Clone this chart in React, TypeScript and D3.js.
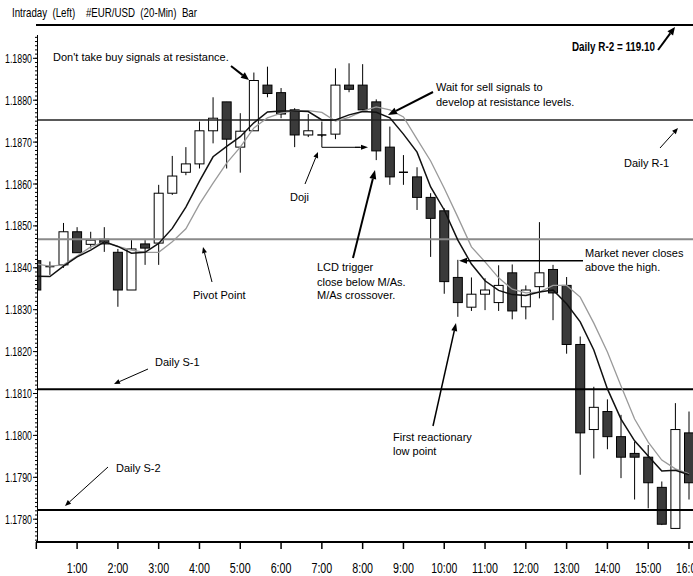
import React from "react";
import * as d3 from "d3";

// ---- data (20-minute EUR/USD bars) ----
const barTimes = [
  "0:00", "0:20", "0:40", "1:00", "1:20", "1:40", "2:00", "2:20", "2:40", "3:00",
  "3:20", "3:40", "4:00", "4:20", "4:40", "5:00", "5:20", "5:40", "6:00", "6:20",
  "6:40", "7:00", "7:20", "7:40", "8:00", "8:20", "8:40", "9:00", "9:20", "9:40",
  "10:00", "10:20", "10:40", "11:00", "11:20", "11:40", "12:00", "12:20", "12:40", "13:00",
  "13:20", "13:40", "14:00", "14:20", "14:40", "15:00", "15:20", "15:40", "16:00",
];
const opens = [
  1.18417, 1.18403, 1.18407, 1.18486, 1.18456, 1.18468, 1.18437, 1.18347, 1.18457, 1.18459,
  1.18578, 1.18628, 1.18648, 1.18727, 1.18796, 1.18688, 1.18727, 1.18836, 1.18818, 1.18777,
  1.18717, 1.18717, 1.18719, 1.18836, 1.18836, 1.18796, 1.18688, 1.18628, 1.18617, 1.18568,
  1.18536, 1.18377, 1.18306, 1.18337, 1.18317, 1.18388, 1.18307, 1.18355, 1.18396, 1.18358,
  1.18217, 1.18014, 1.18057, 1.17997, 1.17957, 1.17948, 1.17876, 1.17778, 1.18006,
];
const highs = [
  1.18423, 1.18415, 1.18507, 1.18497, 1.18486, 1.18497, 1.18445, 1.18466, 1.18466, 1.18598,
  1.18667, 1.18688, 1.18749, 1.18807, 1.18796, 1.18769, 1.18866, 1.1888, 1.18829, 1.18781,
  1.18767, 1.18749, 1.18876, 1.18888, 1.18886, 1.18802, 1.18737, 1.18669, 1.1864, 1.18578,
  1.18542, 1.18419, 1.18377, 1.18375, 1.18406, 1.18408, 1.18358, 1.18509, 1.18407, 1.18378,
  1.18236, 1.18116, 1.18086, 1.18049, 1.17985, 1.17977, 1.1789, 1.18077, 1.18057,
];
const lows = [
  1.18347, 1.18383, 1.184, 1.18436, 1.18446, 1.18438, 1.18307, 1.18347, 1.18407, 1.18407,
  1.18574, 1.18621, 1.18637, 1.18697, 1.18637, 1.18627, 1.18727, 1.18807, 1.18757, 1.18688,
  1.18712, 1.18712, 1.18707, 1.18819, 1.18777, 1.18657, 1.18598, 1.18598, 1.18538, 1.18426,
  1.18338, 1.18283, 1.18297, 1.18299, 1.18297, 1.18277, 1.18277, 1.18327, 1.18275, 1.18195,
  1.17906, 1.17945, 1.17967, 1.17898, 1.17847, 1.17826, 1.17786, 1.17778, 1.17847,
];
const closes = [
  1.18347, 1.18403, 1.18486, 1.18436, 1.18466, 1.18457, 1.18347, 1.18445, 1.18447, 1.18578,
  1.18619, 1.18648, 1.18727, 1.18757, 1.18707, 1.18726, 1.18847, 1.18816, 1.18767, 1.18717,
  1.18727, 1.18717, 1.18836, 1.18826, 1.18777, 1.18679, 1.18617, 1.18628, 1.18568, 1.18518,
  1.18367, 1.18317, 1.18337, 1.18347, 1.18358, 1.18297, 1.18347, 1.18388, 1.1834, 1.18217,
  1.18006, 1.18067, 1.17997, 1.17948, 1.17948, 1.17887, 1.17788, 1.18014, 1.17887,
];
const maFast = [
  1.1838, 1.18379, 1.18404, 1.18426, 1.18442, 1.18462, 1.18451, 1.18435, 1.18437, 1.18458,
  1.18494, 1.18545, 1.18607, 1.18665, 1.1869, 1.18713, 1.18746, 1.18772, 1.18774, 1.18774,
  1.18773, 1.18753, 1.18753, 1.18765, 1.18773, 1.18771, 1.18758, 1.18719, 1.18676, 1.18593,
  1.18538, 1.18466, 1.18409, 1.18369, 1.18346, 1.18336, 1.18334, 1.18342, 1.18347, 1.18314,
  1.18271, 1.18204, 1.18111, 1.18039, 1.17987, 1.17951, 1.17915, 1.17917, 1.17906,
];
const maSlow = [
  1.18409, 1.18404, 1.18407, 1.18428, 1.1845, 1.18462, 1.18451, 1.18442, 1.18437, 1.18437,
  1.18462, 1.18493, 1.18552, 1.18602, 1.1865, 1.18688, 1.18734, 1.18758, 1.18769, 1.18775,
  1.18775, 1.18771, 1.1875, 1.18759, 1.18774, 1.18784, 1.18777, 1.1876, 1.18707, 1.18655,
  1.1859, 1.18521, 1.1845, 1.18414, 1.18376, 1.18349, 1.1834, 1.18342, 1.18358, 1.18358,
  1.1833, 1.18268, 1.18199, 1.18118, 1.18039, 1.17984, 1.17941, 1.1792, 1.17908,
];
const hourLabels = [
  "1:00", "2:00", "3:00", "4:00", "5:00", "6:00", "7:00", "8:00",
  "9:00", "10:00", "11:00", "12:00", "13:00", "14:00", "15:00", "16:00",
];
const yTickValues = [
  1.178, 1.179, 1.18, 1.181, 1.182, 1.183, 1.184, 1.185, 1.186, 1.187, 1.188, 1.189,
];
const levelNames = ["R-1", "Pivot", "S-1", "S-2"];
const levelValues = [1.18753, 1.18468, 1.1811, 1.17822];

const toHours = (s: string) => {
  const [h, m] = s.split(":").map(Number);
  return h + m / 60;
};

const FONT = "'Liberation Sans', Arial, Helvetica, sans-serif";

function Arrow({ x1, y1, x2, y2, w = 1, head = 7, hw = 3 }: any) {
  const a = Math.atan2(y2 - y1, x2 - x1);
  const bx = x2 - head * Math.cos(a);
  const by = y2 - head * Math.sin(a);
  const px = -Math.sin(a) * hw;
  const py = Math.cos(a) * hw;
  return (
    <g>
      <line x1={x1} y1={y1} x2={bx} y2={by} stroke="#000" strokeWidth={w} />
      <polygon
        points={`${x2},${y2} ${bx + px},${by + py} ${bx - px},${by - py}`}
        fill="#000"
      />
    </g>
  );
}

export default function App() {
  const W = 693;
  const H = 576;
  const plotLeft = 37;
  const plotRight = 693;
  const plotTop = 35;
  const plotBottom = 542;

  const x = d3.scaleLinear().domain([0, 16]).range([36.3, 689]);
  const y = d3.scaleLinear().domain([1.178, 1.189]).range([519.2, 58.3]);

  const bars = barTimes.map((t, i) => ({
    t: toHours(t),
    o: opens[i],
    h: highs[i],
    l: lows[i],
    c: closes[i],
  }));

  const line = d3
    .line<number>()
    .x((_, i) => x(toHours(barTimes[i])))
    .y((d) => y(d));

  const bw = 9;
  const minorTicks = d3.range(1.1775, 1.1905, 0.0001);

  const lvl = (name: string) => levelValues[levelNames.indexOf(name)];

  return (
    <svg
      width={W}
      height={H}
      style={{ position: "absolute", left: 0, top: 0, background: "#fff" }}
      fontFamily={FONT}
    >
      <rect width={W} height={H} fill="#fff" />
      <defs>
        <clipPath id="plot">
          <rect x={plotLeft} y={plotTop} width={plotRight - plotLeft} height={plotBottom - plotTop} />
        </clipPath>
      </defs>

      {/* header */}
      <text
        x={12}
        y={17}
        fontSize={13}
        textLength={185}
        lengthAdjust="spacingAndGlyphs"
        style={{ whiteSpace: "pre" }}
      >
        {"Intraday  (Left)    #EUR/USD  (20-Min)  Bar"}
      </text>
      {/* R-2 line at top */}
      <line x1={36} x2={plotRight} y1={25} y2={25} stroke="#000" strokeWidth={2} />

      {/* candles */}
      <g clipPath="url(#plot)">
        {bars.map((b, i) => {
          const cx = x(b.t);
          const up = b.c >= b.o;
          const top = y(Math.max(b.o, b.c));
          const bot = y(Math.min(b.o, b.c));
          const doji = Math.abs(bot - top) < 1;
          return (
            <g key={i}>
              <line x1={cx} x2={cx} y1={y(b.h)} y2={y(b.l)} stroke="#000" strokeWidth={1} />
              {doji ? (
                <line x1={cx - bw / 2} x2={cx + bw / 2} y1={top} y2={top} stroke="#000" strokeWidth={1.5} />
              ) : (
                <rect
                  x={cx - bw / 2}
                  y={top}
                  width={bw}
                  height={bot - top}
                  fill={up ? "#fff" : "#3a3a3a"}
                  stroke="#000"
                  strokeWidth={1}
                />
              )}
            </g>
          );
        })}

        {/* support / resistance levels */}
        <line x1={plotLeft} x2={plotRight} y1={y(lvl("R-1"))} y2={y(lvl("R-1"))} stroke="#222" strokeWidth={1.5} />
        <line x1={plotLeft} x2={plotRight} y1={y(lvl("Pivot"))} y2={y(lvl("Pivot"))} stroke="#8a8a8a" strokeWidth={2} />
        <line x1={plotLeft} x2={plotRight} y1={y(lvl("S-1"))} y2={y(lvl("S-1"))} stroke="#000" strokeWidth={2} />
        <line x1={plotLeft} x2={plotRight} y1={y(lvl("S-2"))} y2={y(lvl("S-2"))} stroke="#000" strokeWidth={2} />

        {/* moving averages */}
        <path d={line(maSlow) || ""} fill="none" stroke="#9a9a9a" strokeWidth={1.3} />
        <path d={line(maFast) || ""} fill="none" stroke="#111" strokeWidth={1.5} />
      </g>

      {/* y axis */}
      <line x1={37.5} x2={37.5} y1={plotTop} y2={plotBottom} stroke="#000" strokeWidth={1} />
      {minorTicks
        .filter((v) => y(v) >= plotTop && y(v) <= plotBottom)
        .map((v, i) => (
          <line key={i} x1={35} x2={37.5} y1={y(v)} y2={y(v)} stroke="#000" strokeWidth={1} />
        ))}
      {yTickValues.map((v) => (
        <g key={v}>
          <line x1={33} x2={37.5} y1={y(v)} y2={y(v)} stroke="#000" strokeWidth={1} />
          <text
            x={32}
            y={y(v) + 4.5}
            fontSize={13}
            textAnchor="end"
            textLength={27}
            lengthAdjust="spacingAndGlyphs"
          >
            {v.toFixed(4)}
          </text>
        </g>
      ))}

      {/* x axis */}
      <line x1={36} x2={plotRight} y1={plotBottom} y2={plotBottom} stroke="#000" strokeWidth={2} />
      {[0, ...hourLabels.map(toHours)].map((h) => (
        <line key={h} x1={x(h)} x2={x(h)} y1={plotBottom} y2={plotBottom + 7} stroke="#000" strokeWidth={1.5} />
      ))}
      {hourLabels.map((s) => (
        <text
          key={s}
          x={x(toHours(s))}
          y={573}
          fontSize={14}
          textAnchor="middle"
          textLength={s.length * 5.2}
          lengthAdjust="spacingAndGlyphs"
        >
          {s}
        </text>
      ))}

      {/* annotations */}
      <g fontSize={11} fill="#000">
        <text x={53} y={60.5}>Don't take buy signals at resistance.</text>
        <Arrow x1={231} y1={66} x2={249} y2={80} w={2} head={8} hw={3.5} />

        <text x={436} y={90.5}>Wait for sell signals to</text>
        <text x={436} y={105.5}>develop at resistance levels.</text>
        <Arrow x1={433} y1={92} x2={388} y2={115} w={2} head={9} hw={3.5} />

        <text x={290} y={201}>Doji</text>
        <Arrow x1={305} y1={184} x2={318} y2={152} w={1} head={6} hw={2.5} />
        <polyline
          points={`${x(toHours("7:00"))},${y(closes[21])} ${x(toHours("7:00"))},147.3 360,147.3`}
          fill="none"
          stroke="#000"
          strokeWidth={1}
        />
        <Arrow x1={355} y1={147.3} x2={368} y2={147.3} w={1} head={7} hw={2.5} />

        <text x={317} y={270.5}>LCD trigger</text>
        <text x={317} y={285.5}>close below M/As.</text>
        <text x={317} y={299}>M/As crossover.</text>
        <Arrow x1={353} y1={258} x2={375} y2={170} w={2} head={9} hw={3.5} />

        <text x={193} y={299}>Pivot Point</text>
        <Arrow x1={212} y1={282} x2={203} y2={247} w={1} head={6} hw={2.5} />

        <text x={585} y={257}>Market never closes</text>
        <text x={585} y={270.5}>above the high.</text>
        <Arrow x1={583} y1={260.7} x2={459} y2={260.7} w={1.5} head={8} hw={3} />

        <text x={624} y={167}>Daily R-1</text>
        <Arrow x1={660} y1={148} x2={678} y2={128} w={1} head={6} hw={2.5} />

        <text x={155} y={366}>Daily S-1</text>
        <Arrow x1={148} y1={369} x2={114} y2={384} w={1} head={6} hw={2.5} />

        <text x={116} y={472}>Daily S-2</text>
        <Arrow x1={108} y1={467} x2={65} y2={506} w={1} head={6} hw={2.5} />

        <text x={393} y={441}>First reactionary</text>
        <text x={393} y={455}>low point</text>
        <Arrow x1={433} y1={426} x2={456} y2={323} w={1.5} head={8} hw={3} />

        <text x={572} y={51} fontWeight="bold" fontSize={12} textLength={83} lengthAdjust="spacingAndGlyphs">
          Daily R-2 = 119.10
        </text>
        <Arrow x1={658} y1={50} x2={675} y2={27} w={2} head={8} hw={3.5} />
      </g>
    </svg>
  );
}
